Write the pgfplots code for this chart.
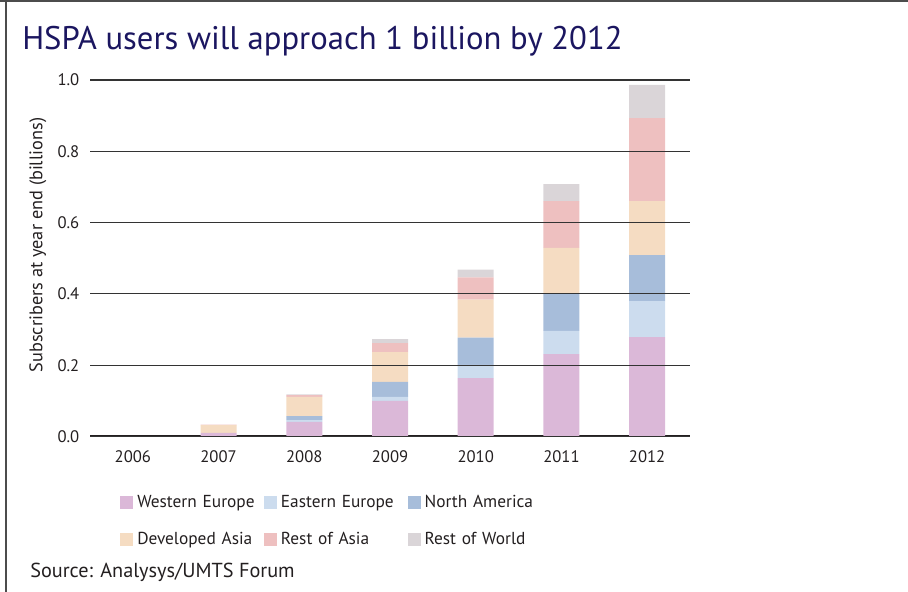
\documentclass[border=0pt]{standalone}
\usepackage{pgfplots}
\pgfplotsset{compat=1.18}
\usepackage{fontspec}
\setmainfont{PT Sans}
\definecolor{txt}{HTML}{231F20}
\definecolor{ttl}{HTML}{1B1660}
\definecolor{cWE}{HTML}{DBB8D8}
\definecolor{cEE}{HTML}{CCDCEE}
\definecolor{cNA}{HTML}{A7BDDA}
\definecolor{cDA}{HTML}{F5DCC2}
\definecolor{cRA}{HTML}{EEC0C0}
\definecolor{cRW}{HTML}{DAD5D8}
\begin{document}
\begin{tikzpicture}
\path[use as bounding box] (0pt,0pt) rectangle (681pt,-444pt);
\draw[line width=1.5pt, color=black!70] (0pt,-1.125pt) -- (681pt,-1.125pt);
\draw[line width=1pt, color=black!70] (4.5pt,-1.125pt) -- (4.5pt,-444pt);
\node[anchor=base west, inner sep=0, text=ttl, font=\fontsize{24.5}{29}\selectfont] at (16.5pt,-37.5pt) {HSPA users will approach 1 billion by 2012};
\node[rotate=90, inner sep=0, text=txt, font=\fontsize{13.7}{16}\selectfont] at (28.5pt,-183.75pt) {Subscribers at year end (billions)};
\node[anchor=base west, inner sep=0, text=txt, font=\fontsize{15.2}{18}\selectfont] at (22.5pt,-432.75pt) {Source: Analysys/UMTS Forum};
\begin{axis}[
  at={(67.5pt,-327.375pt)}, anchor=south west,
  scale only axis, width=450pt, height=267.4pt,
  xmin=-0.5, xmax=6.5, ymin=0, ymax=1,
  ybar stacked, bar width=27pt,
  xtick={0,...,6}, xticklabels={2006,2007,2008,2009,2010,2011,2012},
  ytick={0,0.2,0.4,0.6,0.8,1.0},
  yticklabel style={/pgf/number format/fixed, /pgf/number format/fixed zerofill, /pgf/number format/precision=1, xshift=-4.5pt},
  /pgf/number format/assume math mode=true,
  ymajorgrids, grid style={color=black!80, line width=0.8pt},
  axis line style={draw=none}, tick style={draw=none},
  axis on top,
  tick label style={text=txt, font=\fontsize{12.5}{15}\selectfont},
  xticklabel style={yshift=-7pt},
  legend columns=3,
  legend cell align=left,
  legend image code/.code={\fill[#1] (0pt,-4.875pt) rectangle (9.75pt,4.875pt);},
  legend style={at={(0.05,-0.163)}, anchor=north west, draw=none, fill=none, inner sep=0pt,
    font=\fontsize{13}{15}\selectfont, text=txt, row sep=17pt,
    nodes={inner sep=0pt},
    /tikz/every odd column/.append style={column sep=3pt},
    /tikz/every even column/.append style={text width=95pt}},
]
\addplot[fill=cWE, draw=none] coordinates {(0,0) (1,0.010) (2,0.041) (3,0.100) (4,0.164) (5,0.231) (6,0.279)};
\addplot[fill=cEE, draw=none] coordinates {(0,0) (1,0) (2,0.005) (3,0.011) (4,0.037) (5,0.065) (6,0.101)};
\addplot[fill=cNA, draw=none] coordinates {(0,0) (1,0) (2,0.011) (3,0.042) (4,0.076) (5,0.106) (6,0.129)};
\addplot[fill=cDA, draw=none] coordinates {(0,0) (1,0.022) (2,0.054) (3,0.084) (4,0.107) (5,0.127) (6,0.151)};
\addplot[fill=cRA, draw=none] coordinates {(0,0) (1,0.001) (2,0.005) (3,0.025) (4,0.062) (5,0.131) (6,0.233)};
\addplot[fill=cRW, draw=none] coordinates {(0,0) (1,0) (2,0.002) (3,0.011) (4,0.022) (5,0.048) (6,0.093)};
\legend{Western Europe, Eastern Europe, North America, Developed Asia, Rest of Asia, Rest of World}
\draw[line width=3pt, color=txt] (axis cs:-0.5,0) -- (axis cs:6.5,0);
\end{axis}
\end{tikzpicture}
\end{document}
